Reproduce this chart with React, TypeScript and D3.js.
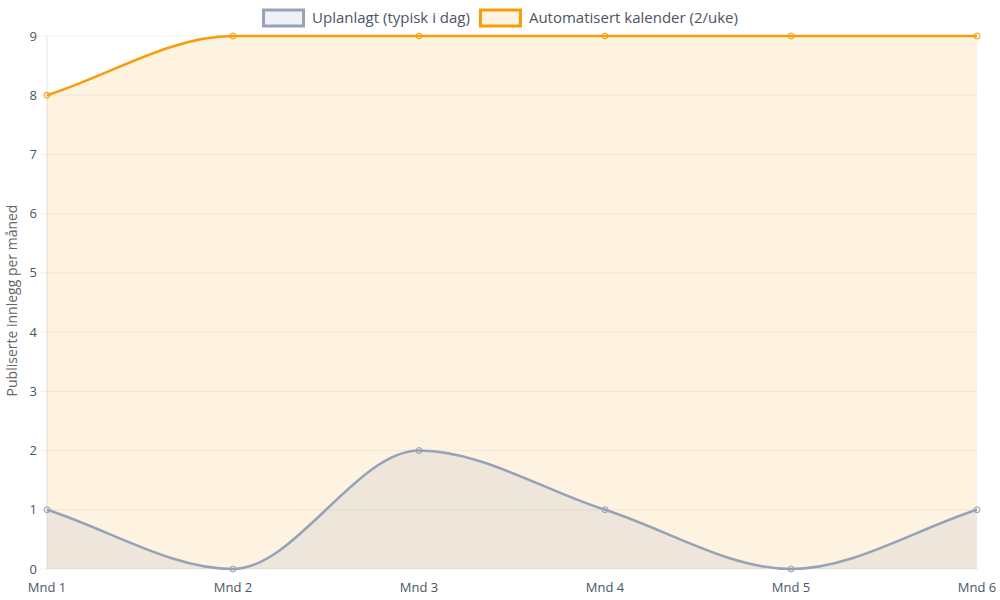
import React, { useLayoutEffect, useRef } from 'react';
import * as d3 from 'd3';

const categories = ['Mnd 1', 'Mnd 2', 'Mnd 3', 'Mnd 4', 'Mnd 5', 'Mnd 6'];
const uplanlagt = [1, 0, 2, 1, 0, 1];
const automatisert = [8, 9, 9, 9, 9, 9];
const yTicks = [0, 1, 2, 3, 4, 5, 6, 7, 8, 9];
const seriesNames = ['Uplanlagt (typisk i dag)', 'Automatisert kalender (2/uke)'];

const width = 1000;
const height = 600;
const margin = { top: 36, right: 23, bottom: 31, left: 47 };
const font = '"Open Sans", "Noto Sans", sans-serif';
const textColor = '#4b5563';

const colors = {
  gray: '#94a3b8',
  grayFill: 'rgba(148,163,184,0.15)',
  orange: '#f59e0b',
  orangeFill: 'rgba(245,158,11,0.12)',
};

type Pt = [number, number];

// monotone cubic like chart.js (endpoint tangents = secant slope)
const monotoneSegments = (pts: Pt[]) => {
  const n = pts.length;
  const delta: number[] = [];
  for (let i = 0; i < n - 1; i++) {
    delta.push((pts[i + 1][1] - pts[i][1]) / (pts[i + 1][0] - pts[i][0]));
  }
  const m: number[] = pts.map((_, i) => {
    if (i === 0) return delta[0];
    if (i === n - 1) return delta[n - 2];
    const a = delta[i - 1];
    const b = delta[i];
    if (a === 0 || b === 0 || Math.sign(a) !== Math.sign(b)) return 0;
    return (a + b) / 2;
  });
  for (let i = 0; i < n - 1; i++) {
    if (delta[i] === 0) {
      m[i] = 0;
      m[i + 1] = 0;
      continue;
    }
    const alpha = m[i] / delta[i];
    const beta = m[i + 1] / delta[i];
    const sq = alpha * alpha + beta * beta;
    if (sq > 9) {
      const tau = 3 / Math.sqrt(sq);
      m[i] = alpha * tau * delta[i];
      m[i + 1] = beta * tau * delta[i];
    }
  }
  return { m };
};

const curvePath = (pts: Pt[], baseline?: number) => {
  const { m } = monotoneSegments(pts);
  const p = d3.path();
  p.moveTo(pts[0][0], pts[0][1]);
  for (let i = 0; i < pts.length - 1; i++) {
    const dx = (pts[i + 1][0] - pts[i][0]) / 3;
    p.bezierCurveTo(
      pts[i][0] + dx,
      pts[i][1] + m[i] * dx,
      pts[i + 1][0] - dx,
      pts[i + 1][1] - m[i + 1] * dx,
      pts[i + 1][0],
      pts[i + 1][1],
    );
  }
  if (baseline !== undefined) {
    p.lineTo(pts[pts.length - 1][0], baseline);
    p.lineTo(pts[0][0], baseline);
    p.closePath();
  }
  return p.toString();
};

const draw = (container: SVGSVGElement) => {
  const svg = d3.select(container);
  svg.selectAll('*').remove();

  const chartWidth = width - margin.left - margin.right;
  const chartHeight = height - margin.top - margin.bottom;

  const x = d3
    .scalePoint<string>()
    .domain(categories)
    .range([0, chartWidth]);
  const y = d3.scaleLinear().domain([0, 9]).range([chartHeight, 0]);

  const g = svg
    .append('g')
    .attr('transform', `translate(${margin.left},${margin.top})`);

  // grid + tick marks
  g.append('g')
    .selectAll('line')
    .data(yTicks)
    .join('line')
    .attr('x1', -7)
    .attr('x2', chartWidth)
    .attr('y1', (d) => y(d))
    .attr('y2', (d) => y(d))
    .attr('stroke', 'rgba(0,0,0,0.06)')
    .attr('stroke-width', 1);

  g.append('line')
    .attr('x1', 0)
    .attr('x2', 0)
    .attr('y1', 0)
    .attr('y2', chartHeight)
    .attr('stroke', 'rgba(0,0,0,0.1)');

  g.append('g')
    .selectAll('text')
    .data(yTicks)
    .join('text')
    .attr('x', -10)
    .attr('y', (d) => y(d))
    .attr('dy', '0.35em')
    .attr('text-anchor', 'end')
    .attr('font-family', font)
    .attr('font-size', 13)
    .attr('fill', textColor)
    .text((d) => d);

  g.append('g')
    .selectAll('text')
    .data(categories)
    .join('text')
    .attr('x', (d) => x(d) as number)
    .attr('y', chartHeight + 23)
    .attr('text-anchor', 'middle')
    .attr('font-family', font)
    .attr('font-size', 13)
    .attr('fill', textColor)
    .text((d) => d);

  svg
    .append('text')
    .attr('transform', `translate(17,${margin.top + chartHeight / 2 - 2}) rotate(-90)`)
    .attr('text-anchor', 'middle')
    .attr('font-family', font)
    .attr('font-size', 14)
    .attr('fill', '#666')
    .text('Publiserte innlegg per måned');

  const series = [
    { values: automatisert, stroke: colors.orange, fill: colors.orangeFill },
    { values: uplanlagt, stroke: colors.gray, fill: colors.grayFill },
  ];

  const toPts = (values: number[]): Pt[] =>
    values.map((v, i) => [x(categories[i]) as number, y(v)]);

  series.forEach((s) => {
    g.append('path').attr('d', curvePath(toPts(s.values), y(0))).attr('fill', s.fill);
  });
  series.forEach((s) => {
    g.append('path')
      .attr('d', curvePath(toPts(s.values)))
      .attr('fill', 'none')
      .attr('stroke', s.stroke)
      .attr('stroke-width', 2.5);
    g.append('g')
      .selectAll('circle')
      .data(s.values)
      .join('circle')
      .attr('cx', (_, i) => x(categories[i]) as number)
      .attr('cy', (d) => y(d))
      .attr('r', 3)
      .attr('fill', s.fill)
      .attr('stroke', s.stroke)
      .attr('stroke-width', 1);
  });

  // legend
  const legend = svg.append('g');
  const legendItems = [
    { name: seriesNames[0], stroke: colors.gray, fill: colors.grayFill },
    { name: seriesNames[1], stroke: colors.orange, fill: colors.orangeFill },
  ];
  let lx = 0;
  legendItems.forEach((item) => {
    const it = legend.append('g').attr('transform', `translate(${lx},0)`);
    it.append('rect')
      .attr('x', 1.5)
      .attr('y', 10)
      .attr('width', 40)
      .attr('height', 16)
      .attr('fill', item.fill)
      .attr('stroke', item.stroke)
      .attr('stroke-width', 3);
    const t = it
      .append('text')
      .attr('x', 50)
      .attr('y', 23)
      .attr('font-family', font)
      .attr('font-size', 15)
      .attr('fill', textColor)
      .text(item.name);
    const tw = (t.node() as SVGTextElement).getComputedTextLength();
    lx += 50 + tw + 9;
  });
  const totalW = lx - 9;
  legend.attr('transform', `translate(${(width - totalW) / 2},0)`);
};

export default function App() {
  const ref = useRef<SVGSVGElement>(null);

  useLayoutEffect(() => {
    if (ref.current) draw(ref.current);
  }, []);

  return (
    <div style={{ position: 'fixed', left: 0, top: 0, background: '#fff' }}>
      <svg ref={ref} width={width} height={height} style={{ display: 'block' }} />
    </div>
  );
}
